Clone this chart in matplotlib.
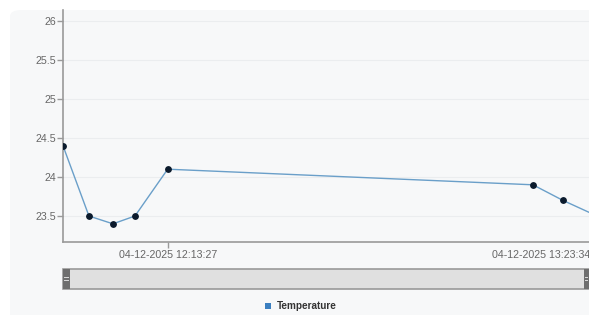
from datetime import datetime

import matplotlib.dates as mdates
import matplotlib.pyplot as plt
from matplotlib.patches import FancyBboxPatch, Rectangle

plt.rcParams["font.family"] = ["Liberation Sans", "DejaVu Sans"]

# data
times = [
    "2025-12-04 11:53:49",
    "2025-12-04 11:58:41",
    "2025-12-04 12:03:11",
    "2025-12-04 12:07:19",
    "2025-12-04 12:13:27",
    "2025-12-04 13:21:58",
    "2025-12-04 13:27:36",
    "2025-12-04 13:34:00",
]
temperature = [24.4, 23.5, 23.4, 23.5, 24.1, 23.9, 23.7, 23.5]
x_ticks = ["2025-12-04 12:13:27", "2025-12-04 13:23:34"]
y_ticks = [23.5, 24, 24.5, 25, 25.5, 26]
view_range = ["2025-12-04 11:53:49", "2025-12-04 13:32:29"]
series_name = "Temperature"

to_dt = lambda s: datetime.strptime(s, "%Y-%m-%d %H:%M:%S")
xs = [to_dt(t) for t in times]

W, H = 589, 315
fig = plt.figure(figsize=(W / 100, H / 100), dpi=100)
fig.patch.set_facecolor("white")

panel_color = "#f7f8f9"
fig.patches.append(
    FancyBboxPatch(
        (10 / W, -0.1), 1.2, 1 - 10 / H + 0.1,
        boxstyle="round,pad=0,rounding_size=0.02",
        transform=fig.transFigure, facecolor=panel_color,
        edgecolor="none", zorder=-5,
    )
)

ax = fig.add_axes([63 / W, 1 - 242 / H, 1 - 63 / W, (242 - 10) / H])
ax.set_facecolor(panel_color)
ax.set_zorder(1)

ax.plot(
    xs, temperature,
    color="#6a9fc9", linewidth=1.0,
    marker="o", markersize=3.9,
    markerfacecolor="#0b1a2c", markeredgecolor="#0b1a2c",
    zorder=3,
)

ax.set_xlim(to_dt(view_range[0]), to_dt(view_range[1]))
ax.set_ylim(23.167, 26.14)

ax.set_yticks(y_ticks)
ax.set_yticklabels([f"{v:g}" for v in y_ticks])
ax.set_xticks([to_dt(t) for t in x_ticks])
ax.xaxis.set_major_formatter(mdates.DateFormatter("%d-%m-%Y %H:%M:%S"))
ax.xaxis.get_major_ticks()[1].tick1line.set_visible(False)

ax.grid(axis="y", color="#ebedef", linewidth=0.8)
ax.set_axisbelow(True)

for side in ("top", "right"):
    ax.spines[side].set_visible(False)
for side in ("left", "bottom"):
    ax.spines[side].set_color("#9a9a9a")
    ax.spines[side].set_linewidth(1.2)

ax.tick_params(
    axis="both", colors="#9a9a9a", labelcolor="#666666",
    labelsize=7.7, length=4, width=1,
)
ax.tick_params(axis="y", pad=1)
ax.tick_params(axis="x", pad=2)

# navigator / scrollbar
sb_y0, sb_y1 = 1 - 289 / H, 1 - 269 / H
fig.patches.append(
    Rectangle(
        (63 / W, sb_y0), 1 - 63 / W, sb_y1 - sb_y0,
        transform=fig.transFigure, facecolor="#e0e0e0",
        edgecolor="#9a9a9a", linewidth=1.2, zorder=2,
    )
)
for hx, hw in [(63, 7), (584, 5)]:
    fig.patches.append(
        Rectangle(
            (hx / W, sb_y0), hw / W, sb_y1 - sb_y0,
            transform=fig.transFigure, facecolor="#6e6e6e",
            edgecolor="none", zorder=3,
        )
    )
    for ly in (278, 281):
        fig.patches.append(
            Rectangle(
                ((hx + 1) / W, 1 - ly / H), (hw - 2) / W, 1 / H,
                transform=fig.transFigure, facecolor="#d8d8d8",
                edgecolor="none", zorder=4,
            )
        )

# legend
fig.patches.append(
    Rectangle(
        (265 / W, 1 - 309 / H), 6 / W, 6 / H,
        transform=fig.transFigure, facecolor="#3b7fc0",
        edgecolor="none", zorder=3,
    )
)
fig.text(
    277 / W, 1 - 306 / H, series_name,
    fontsize=7.2, fontweight="bold", color="#333333",
    va="center", ha="left",
)

fig.savefig("out.png", dpi=100, facecolor=fig.get_facecolor())
